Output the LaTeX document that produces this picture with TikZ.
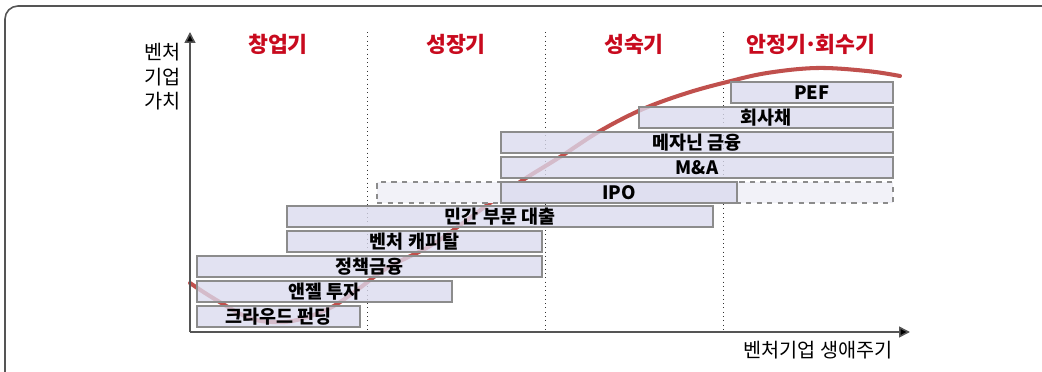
\documentclass[tikz,border=0pt]{standalone}
\usepackage{fontspec}
\setmainfont{Noto Sans CJK KR}
\usetikzlibrary{arrows.meta}
\definecolor{phasered}{RGB}{200,10,30}
\definecolor{curvered}{RGB}{192,80,77}
\definecolor{barfill}{RGB}{218,218,238}
\definecolor{barline}{RGB}{140,140,140}
\definecolor{dashfill}{RGB}{242,242,248}
\definecolor{framegray}{RGB}{85,85,85}
\tikzset{
  bar/.style={draw=barline, line width=0.8pt, fill=barfill, fill opacity=0.78, text opacity=1,
    minimum height=0.42cm, inner sep=0pt, font=\fontsize{10.5}{12}\selectfont\bfseries},
  dashbar/.style={draw=barline, line width=0.7pt, dashed, fill=dashfill, minimum height=0.42cm, inner sep=0pt},
  phase/.style={text=phasered, font=\fontsize{12.3}{14}\selectfont\bfseries, inner sep=0pt},
  axislabel/.style={font=\fontsize{11.2}{14}\selectfont, inner sep=0pt},
  axis/.style={line width=0.9pt, draw=framegray, -{Triangle[length=0.22cm,width=0.22cm,fill=black]}},
  divider/.style={line width=0.45pt, dotted, draw=black!80},
  lifecurve/.style={line width=2.3pt, draw=curvered, line cap=round},
}
\begin{document}
\begin{tikzpicture}[x=0.02cm, y=-0.02cm]
\useasboundingbox (0,0) rectangle (1042,372);
% frame
\draw[framegray, line width=0.9pt, rounded corners=0.26cm] (5,380) -- (5,6) -- (1050,6);
% coordinates
\coordinate (origin) at (190,332);
\coordinate (ytip) at (190,32);
\coordinate (xtip) at (910,332);
\coordinate (d1t) at (367,32); \coordinate (d1b) at (367,332);
\coordinate (d2t) at (545,32); \coordinate (d2b) at (545,332);
\coordinate (d3t) at (723,32); \coordinate (d3b) at (723,332);
% dividers
\draw[divider] (d1t) -- (d1b);
\draw[divider] (d2t) -- (d2b);
\draw[divider] (d3t) -- (d3b);
% phase labels
\node[phase] (p1) at (278,44) {창업기};
\node[phase] (p2) at (456,44) {성장기};
\node[phase] (p3) at (634,44) {성숙기};
\node[phase] (p4) at (811,44) {안정기\kern-0.1em·\kern-0.1em회수기};
% curve
\draw[lifecurve] plot[smooth, tension=0.6] coordinates {(190,283) (213,298) (247,317) (272,322) (297,320) (330,308) (357,290) (387,268) (430,246) (463,223) (490,203) (523,180) (560,157) (600,131) (643,109) (687,93) (727,82) (767,73) (817,68) (867,71) (900,76)};
% bars
\node[dashbar, minimum width=10.32cm] (ipoext) at (635,192.5) {};
\node[bar, minimum width=3.24cm] (pef) at (812,92.5) {PEF};
\node[bar, minimum width=5.08cm] (bond) at (766,117.5) {회사채};
\node[bar, minimum width=7.84cm] (mezz) at (697,142.5) {메자닌 금융};
\node[bar, minimum width=7.84cm] (ma) at (697,167.5) {M\&A};
\node[bar, minimum width=4.72cm] (ipo) at (619,192.5) {IPO};
\node[bar, minimum width=8.52cm] (loan) at (500,216.5) {민간 부문 대출};
\node[bar, minimum width=5.1cm] (vc) at (414.5,241.5) {벤처 캐피탈};
\node[bar, minimum width=6.9cm] (policy) at (369.5,266.5) {정책금융};
\node[bar, minimum width=5.1cm] (angel) at (324.5,291.5) {앤젤 투자};
\node[bar, minimum width=3.26cm] (crowd) at (278.5,316.5) {크라우드 펀딩};
% axes
\draw[axis] (origin) -- (ytip);
\draw[axis] (origin) -- (xtip);
\node[axislabel, align=right, anchor=east] (ylab) at (181,77) {벤처\\기업\\가치};
\node[axislabel, anchor=east] (xlab) at (893,350) {벤처기업 생애주기};
\end{tikzpicture}
\end{document}
